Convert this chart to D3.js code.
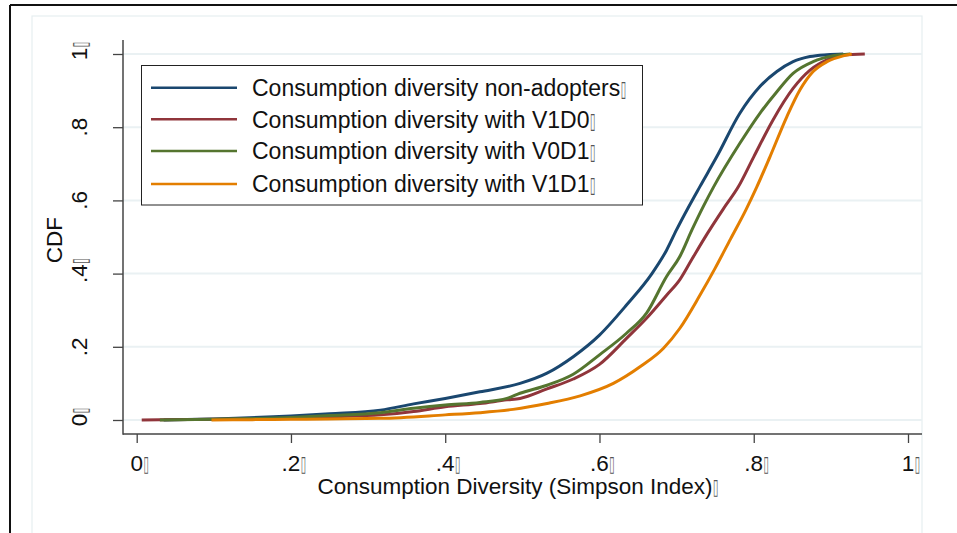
<!DOCTYPE html>
<html>
<head>
<meta charset="utf-8">
<script src="https://cdn.jsdelivr.net/npm/d3@7"></script>
<style>
html,body{margin:0;padding:0;background:#fff;}
svg{display:block;font-family:"Liberation Sans",Arial,sans-serif;}
</style>
</head>
<body>
<svg id="chart" width="957" height="533"></svg>
<script>
// ---- data ----
const xTickValues = [0, 0.2, 0.4, 0.6, 0.8, 1];
const xTickLabels = ["0", ".2", ".4", ".6", ".8", "1"];
const xTickBoxed = [true, true, true, true, true, true];
const yTickValues = [0, 0.2, 0.4, 0.6, 0.8, 1];
const yTickLabels = ["0", ".2", ".4", ".6", ".8", "1"];
const yTickBoxed = [true, false, true, false, false, true];

const seriesNames = [
  "Consumption diversity non-adopters",
  "Consumption diversity with V1D0",
  "Consumption diversity with V0D1",
  "Consumption diversity with V1D1"
];
const seriesColors = ["#1a476f", "#90353b", "#55752f", "#e37e00"];

const nonAdoptersX = [0.035,0.10,0.20,0.25,0.316,0.359,0.40,0.445,0.497,0.532,0.566,0.60,0.635,0.668,0.687,0.70,0.715,0.730,0.752,0.782,0.808,0.830,0.851,0.873,0.895,0.916];
const nonAdoptersY = [0,0.003,0.011,0.017,0.027,0.044,0.059,0.077,0.100,0.128,0.173,0.232,0.314,0.400,0.464,0.520,0.580,0.637,0.719,0.838,0.911,0.952,0.979,0.993,0.998,1.0];

const v1d0X = [0.0065,0.03,0.10,0.20,0.25,0.316,0.359,0.40,0.445,0.48,0.497,0.532,0.566,0.60,0.635,0.661,0.687,0.704,0.72,0.74,0.76,0.78,0.80,0.825,0.851,0.873,0.895,0.916,0.944];
const v1d0Y = [0,0.001,0.002,0.005,0.009,0.014,0.023,0.036,0.045,0.055,0.059,0.085,0.112,0.152,0.223,0.278,0.341,0.383,0.44,0.51,0.575,0.637,0.719,0.820,0.906,0.956,0.984,0.997,1.0];

const v0d1X = [0.03,0.10,0.20,0.25,0.316,0.359,0.40,0.445,0.48,0.497,0.532,0.566,0.60,0.635,0.661,0.687,0.704,0.72,0.735,0.748,0.782,0.808,0.830,0.851,0.877,0.903,0.925];
const v0d1Y = [0,0.002,0.007,0.012,0.020,0.032,0.041,0.048,0.059,0.073,0.095,0.125,0.178,0.237,0.292,0.392,0.446,0.52,0.585,0.637,0.756,0.838,0.897,0.947,0.979,0.995,1.0];

const v1d1X = [0.097,0.15,0.20,0.25,0.316,0.40,0.445,0.488,0.532,0.575,0.618,0.653,0.683,0.704,0.73,0.75,0.77,0.79,0.804,0.821,0.843,0.860,0.877,0.895,0.916,0.927];
const v1d1Y = [0,0.001,0.002,0.003,0.0045,0.014,0.020,0.029,0.045,0.066,0.100,0.146,0.196,0.250,0.340,0.415,0.495,0.575,0.637,0.719,0.829,0.902,0.952,0.979,0.995,1.0];

const seriesX = [nonAdoptersX, v1d0X, v0d1X, v1d1X];
const seriesY = [nonAdoptersY, v1d0Y, v0d1Y, v1d1Y];
const boxGlyph = "\u25AF";

// ---- drawing ----
const svg = d3.select("#chart");
const x = d3.scaleLinear().domain([0, 1]).range([136.7, 908]);
const y = d3.scaleLinear().domain([0, 1]).range([420, 54]);
const plotL = 123, plotR = 922, plotT = 40, plotB = 434;
const FS = 22.5, LFS = 23;

// outer frame
svg.append("rect").attr("x", 32).attr("y", 16).attr("width", 890).attr("height", 540)
  .attr("fill", "#fff").attr("stroke", "#e6eef1").attr("stroke-width", 1.2);
svg.append("line").attr("x1", 10).attr("x2", 957).attr("y1", 5).attr("y2", 5)
  .attr("stroke", "#111").attr("stroke-width", 2);
svg.append("line").attr("x1", 10).attr("x2", 10).attr("y1", 5).attr("y2", 533)
  .attr("stroke", "#111").attr("stroke-width", 2);

// gridlines
svg.append("g").selectAll("line").data(yTickValues).join("line")
  .attr("x1", plotL).attr("x2", plotR)
  .attr("y1", d => y(d)).attr("y2", d => y(d))
  .attr("stroke", "#eaf1f3").attr("stroke-width", 2);

// axes
const axisColor = "#444";
const gx = svg.append("g").attr("transform", `translate(0,${plotB})`)
  .call(d3.axisBottom(x).tickValues(xTickValues).tickSize(9).tickFormat(() => ""));
gx.select(".domain").remove();
gx.selectAll(".tick line").attr("stroke", axisColor).attr("stroke-width", 1.3);
const gy = svg.append("g").attr("transform", `translate(${plotL},0)`)
  .call(d3.axisLeft(y).tickValues(yTickValues).tickSize(10).tickFormat(() => ""));
gy.select(".domain").remove();
gy.selectAll(".tick line").attr("stroke", axisColor).attr("stroke-width", 1.3);

svg.append("line").attr("x1", plotL).attr("x2", plotL).attr("y1", plotT).attr("y2", plotB + 0.7)
  .attr("stroke", axisColor).attr("stroke-width", 1.5);
svg.append("line").attr("x1", plotL).attr("x2", plotR).attr("y1", plotB).attr("y2", plotB)
  .attr("stroke", axisColor).attr("stroke-width", 1.5);

// narrow box glyph placed right after a text's end
function boxAfter(parent, endX, baseY, fs) {
  parent.append("text")
    .attr("transform", `translate(${endX + 0.5},${baseY}) scale(0.45,1)`)
    .attr("font-family", "DejaVu Sans").attr("font-size", fs * 0.95)
    .attr("fill", "#555").text(boxGlyph);
}

// x tick labels
xTickValues.forEach((v, i) => {
  const t = svg.append("text").attr("x", x(v)).attr("y", 471)
    .attr("text-anchor", "middle").attr("font-size", FS).attr("fill", "#111")
    .text(xTickLabels[i]);
  if (xTickBoxed[i]) {
    const w = t.node().getComputedTextLength();
    boxAfter(svg, x(v) + w / 2, 471, FS);
  }
});

// y tick labels (rotated)
yTickValues.forEach((v, i) => {
  const g = svg.append("g").attr("transform", `translate(87,${y(v)}) rotate(-90)`);
  const t = g.append("text").attr("x", 0).attr("y", 0)
    .attr("text-anchor", "middle").attr("font-size", FS).attr("fill", "#111")
    .text(yTickLabels[i]);
  if (yTickBoxed[i]) {
    const w = t.node().getComputedTextLength();
    boxAfter(g, w / 2, 0, FS);
  }
});

// axis titles
const xt = svg.append("text").attr("x", 515).attr("y", 494).attr("text-anchor", "middle")
  .attr("font-size", FS).attr("fill", "#111").text("Consumption Diversity (Simpson Index)");
boxAfter(svg, 515 + xt.node().getComputedTextLength() / 2, 494, FS);
svg.append("text").attr("transform", "translate(62,240) rotate(-90)")
  .attr("text-anchor", "middle").attr("font-size", FS).attr("fill", "#111").text("CDF");

// lines
const line = d3.line().x(d => x(d[0])).y(d => y(d[1])).curve(d3.curveMonotoneX);
seriesX.forEach((xs, i) => {
  const pts = xs.map((xv, j) => [xv, seriesY[i][j]]);
  svg.append("path").attr("d", line(pts)).attr("fill", "none")
    .attr("stroke", seriesColors[i]).attr("stroke-width", 3)
    .attr("stroke-linejoin", "round").attr("stroke-linecap", "butt");
});

// legend
const lg = svg.append("g");
lg.append("rect").attr("x", 141.5).attr("y", 65.5).attr("width", 501).attr("height", 139.5)
  .attr("fill", "#fff").attr("stroke", "#222").attr("stroke-width", 1);
const legendY = [87.7, 119.3, 151, 184];
seriesNames.forEach((n, i) => {
  lg.append("line").attr("x1", 151).attr("x2", 237)
    .attr("y1", legendY[i]).attr("y2", legendY[i])
    .attr("stroke", seriesColors[i]).attr("stroke-width", 2.5);
  const t = lg.append("text").attr("x", 252).attr("y", legendY[i] + 8.3)
    .attr("font-size", LFS).attr("fill", "#111").text(n);
  boxAfter(lg, 252 + t.node().getComputedTextLength(), legendY[i] + 8.3, LFS);
});
</script>
</body>
</html>
